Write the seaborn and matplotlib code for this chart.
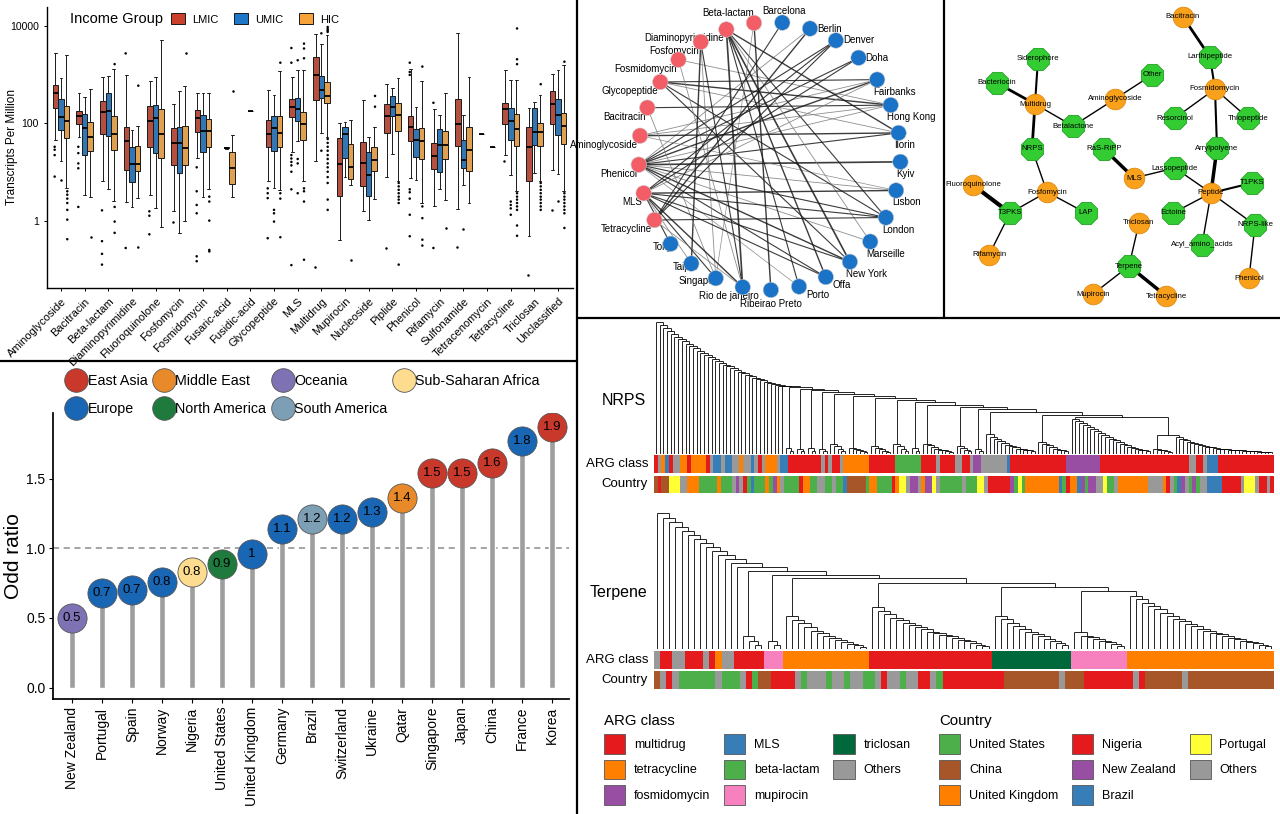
import numpy as np
import pandas as pd
import matplotlib
matplotlib.use("Agg")
import matplotlib.pyplot as plt
import seaborn as sns
from matplotlib.colors import ListedColormap
from matplotlib.collections import LineCollection
from matplotlib.lines import Line2D
from matplotlib.patches import Patch
from matplotlib.ticker import NullLocator

## ---------------- data: panel A (boxplot, values are log10 TPM) ----------------
arg_classes = ["Aminoglycoside", "Bacitracin", "Beta-lactam", "Diaminopyrimidine", "Fluoroquinolone",
               "Fosfomycin", "Fosmidomycin", "Fusaric-acid", "Fusidic-acid", "Glycopeptide", "MLS",
               "Multidrug", "Mupirocin", "Nucleoside", "Piplide", "Phenicol", "Rifamycin",
               "Sulfonamide", "Tetracenomycin", "Tetracycline", "Triclosan", "Unclassified"]
income_groups = ["LMIC", "UMIC", "HIC"]

# (low whisker, Q1, median, Q3, high whisker) per class
lmic_box = [(1.66, 2.31, 2.63, 2.78, 3.43), (1.73, 1.99, 2.15, 2.25, 2.63), (0.81, 1.78, 2.24, 2.46, 2.95),
            (0.40, 1.05, 1.63, 1.93, 2.99), (0.54, 1.51, 2.05, 2.35, 2.87), (0.20, 1.15, 1.59, 1.90, 2.39),
            (1.29, 1.83, 2.10, 2.27, 2.61), None, None, (0.81, 1.52, 1.78, 2.07, 2.68),
            (1.42, 2.12, 2.34, 2.50, 2.94), (1.23, 2.48, 2.99, 3.35, 3.82), (-0.38, 0.52, 1.17, 1.69, 2.00),
            (0.20, 0.71, 1.18, 1.61, 2.48), (0.90, 1.80, 2.15, 2.39, 2.80), (0.88, 1.63, 1.92, 2.15, 3.12),
            (0.30, 1.06, 1.34, 1.59, 2.29), (0.24, 1.54, 1.99, 2.49, 3.85), (1.78, 1.78, 1.78, 1.78, 1.78),
            (1.35, 1.98, 2.29, 2.41, 3.10), (-0.30, 0.81, 1.52, 1.93, 2.31), (1.05, 1.99, 2.39, 2.66, 3.01)]
umic_box = [(1.22, 1.86, 2.12, 2.50, 2.92), (0.54, 1.35, 1.91, 2.19, 2.54), (0.65, 1.75, 2.25, 2.61, 2.97),
            (0.29, 0.79, 1.16, 1.52, 1.86), (0.27, 1.40, 2.10, 2.37, 2.95), (-0.24, 0.98, 1.59, 1.93, 2.67),
            (0.50, 1.42, 1.84, 2.16, 2.61), (1.48, 1.49, 1.50, 1.51, 1.52), (2.25, 2.25, 2.25, 2.25, 2.25),
            (0.67, 1.44, 1.90, 2.14, 2.58), (1.63, 2.05, 2.29, 2.52, 3.10), (1.80, 2.51, 2.68, 2.97, 3.63),
            (0.91, 1.29, 1.78, 1.92, 2.03), (0.03, 0.52, 0.95, 1.41, 1.71), (1.37, 2.14, 2.34, 2.56, 2.73),
            (0.84, 1.32, 1.66, 1.88, 2.34), (0.65, 1.00, 1.56, 1.88, 2.17), (0.74, 1.08, 1.25, 1.66, 2.17),
            None, (0.95, 1.66, 2.05, 2.32, 2.88), (0.98, 1.56, 1.83, 2.31, 2.44), (0.96, 1.76, 2.16, 2.49, 3.09)]
hic_box = [(0.67, 1.69, 2.05, 2.35, 3.39), (0.50, 1.44, 1.73, 2.03, 2.71), (0.41, 1.46, 1.78, 2.14, 3.12),
           (0.47, 1.03, 1.16, 1.54, 1.95), (-0.12, 1.29, 1.78, 2.29, 3.71), (0.01, 1.15, 1.49, 1.95, 2.76),
           (0.65, 1.52, 1.84, 2.09, 2.61), (0.50, 0.76, 1.08, 1.42, 1.76), None,
           (0.64, 1.51, 1.81, 2.14, 3.07), (0.81, 1.65, 1.98, 2.24, 3.10), (1.73, 2.41, 2.56, 2.85, 3.80),
           (0.73, 0.86, 1.10, 1.58, 2.07), (0.45, 1.03, 1.24, 1.52, 1.93), (0.81, 1.84, 2.16, 2.41, 2.92),
           (0.38, 1.27, 1.63, 1.91, 2.86), (0.44, 1.27, 1.56, 1.84, 2.63), (0.37, 1.03, 1.46, 1.93, 2.95),
           (1.52, 1.52, 1.52, 1.52, 1.52), (0.61, 1.54, 1.88, 2.19, 2.88), (0.81, 1.54, 1.82, 2.00, 2.58),
           (0.61, 1.58, 1.95, 2.22, 3.19)]

lmic_out = [[1.52, 1.46, 1.35, 0.91], [1.52, 1.39, 1.18, 1.08, 0.29], [0.22, -0.41, -0.67, -0.89],
            [3.43, -0.55], [0.20, 0.11, -0.27], [-0.01], [1.10, 0.61, 0.33, 0.16, -0.72, -0.82], [], [],
            [0.67, 0.57, 0.47, -0.35], [3.54, 3.24, 1.35, 1.28, 1.21, 1.14, 1.01, 0.65, -0.90], [-0.93],
            [], [], [-0.55], [3.24, 3.05, 2.99, 0.65, 0.59, 0.46, 0.13, -0.31], [2.42, -0.55], [-0.52],
            [], [1.22], [-1.10], [0.22]]
umic_out = [[0.84], [], [], [], [], [], [], [], [], [0.23, 0.16, -0.01], [3.29, 1.27, 1.18, 0.57],
            [3.84, 1.44], [], [], [], [], [], [-0.16], [], [0.40, 0.33, 0.26, 0.13], [], [0.41]]
hic_out = [[0.61, 0.54, 0.46, 0.37, 0.23, 0.03, -0.37], [-0.33], [3.21, 0.29, -0.01, -0.24], [2.77, -0.54],
           [], [3.43], [0.50, 0.40, 0.01, -0.59, -0.62], [2.67], [], [3.24, 0.57, 0.46, -0.33],
           [3.63, 3.53, 3.33, 0.67, 0.61, 0.40, -0.79],
           [3.97, 3.93, 3.90, 3.87, 1.68, 1.60, 1.52, 1.44, 1.35, 1.27, 1.18, 1.10, 1.01, 0.90, 0.78, 0.44, 0.23],
           [-0.80], [2.56, 2.34], [0.78, 0.71, 0.64, 0.57, 0.50, 0.44, 0.37, -0.89],
           [3.16, 0.30, 0.06, -0.38, -0.50], [-0.14], [], [],
           [3.94, 3.31, 3.21, 0.57, 0.50, 0.44, 0.37, 0.30, 0.23, -0.09, -0.30],
           [2.80, 0.78, 0.71, 0.64, 0.57, 0.50, 0.44, 0.37, 0.30, 0.23],
           [3.26, 0.57, 0.50, 0.44, 0.37, 0.30, 0.23, 0.16, -0.14]]

## ---------------- data: panel B (ARG - city network) ----------------
b_cities = ["Barcelona", "Berlin", "Denver", "Doha", "Fairbanks", "Hong Kong", "Ilorin", "Kyiv", "Lisbon",
            "London", "Marseille", "New York", "Offa", "Porto", "Ribeirao Preto", "Rio de janeiro",
            "Singapore", "Taipei", "Tokyo"]
b_args = ["Tetracycline", "MLS", "Phenicol", "Aminoglycoside", "Bacitracin", "Glycopeptide",
          "Fosmidomycin", "Fosfomycin", "Diaminopyrimidine", "Beta-lactam"]
b_edges = [("Phenicol", "Denver", 0.8), ("Phenicol", "Doha", 0.8), ("Phenicol", "Fairbanks", 1.0),
           ("Phenicol", "Hong Kong", 0.6), ("Phenicol", "Ilorin", 0.8), ("Phenicol", "Kyiv", 1.2),
           ("Phenicol", "Lisbon", 0.6), ("Phenicol", "London", 0.8), ("Phenicol", "Marseille", 0.6),
           ("Phenicol", "New York", 1.0), ("Phenicol", "Offa", 0.8), ("Phenicol", "Berlin", 0.6),
           ("Phenicol", "Porto", 0.5), ("Aminoglycoside", "Ilorin", 1.0), ("Aminoglycoside", "Hong Kong", 0.6),
           ("Aminoglycoside", "Fairbanks", 0.6), ("Aminoglycoside", "Lisbon", 0.5),
           ("Glycopeptide", "Hong Kong", 1.0), ("Glycopeptide", "Fairbanks", 0.8), ("Glycopeptide", "Ilorin", 0.6),
           ("Glycopeptide", "London", 0.8), ("Glycopeptide", "New York", 0.8),
           ("Fosmidomycin", "Hong Kong", 0.6), ("Fosmidomycin", "Rio de janeiro", 0.6),
           ("Fosfomycin", "Taipei", 1.0), ("Fosfomycin", "Rio de janeiro", 0.8), ("Fosfomycin", "Singapore", 0.6),
           ("Diaminopyrimidine", "Rio de janeiro", 1.2), ("Diaminopyrimidine", "Offa", 1.0),
           ("Diaminopyrimidine", "New York", 1.2), ("Diaminopyrimidine", "London", 0.8),
           ("Diaminopyrimidine", "Ilorin", 1.0), ("Diaminopyrimidine", "Porto", 0.8),
           ("Diaminopyrimidine", "Marseille", 0.6), ("Beta-lactam", "Ribeirao Preto", 1.0),
           ("Beta-lactam", "Singapore", 0.5), ("Bacitracin", "Hong Kong", 0.8), ("Bacitracin", "Singapore", 0.6),
           ("MLS", "Lisbon", 1.0), ("MLS", "London", 0.8), ("MLS", "Offa", 0.8), ("MLS", "New York", 0.8),
           ("MLS", "Denver", 0.8), ("MLS", "Doha", 0.8), ("MLS", "Fairbanks", 0.6), ("MLS", "Tokyo", 0.8),
           ("MLS", "Taipei", 0.6), ("MLS", "Rio de janeiro", 1.0), ("MLS", "Singapore", 0.8),
           ("Tetracycline", "Berlin", 1.0), ("Tetracycline", "London", 0.8), ("Tetracycline", "Denver", 0.8),
           ("Tetracycline", "Barcelona", 0.8), ("Tetracycline", "Rio de janeiro", 0.6)]

## ---------------- data: panel C (ARG - BGC network, layout) ----------------
c_names = ["Bacitracin", "Fosmidomycin", "Multidrug", "Aminoglycoside", "MLS", "Fosfomycin", "Fluoroquinolone",
           "Rifamycin", "Peptide", "Triclosan", "Mupirocin", "Tetracycline", "Phenicol",
           "Siderophore", "Bacteriocin", "Other", "Larthipeptide", "Betalactone", "Resorcinol", "Thiopeptide",
           "NRPS", "Arrylpolyene", "RaS-RiPP", "Lassopeptide", "T1PKS", "T3PKS", "LAP", "Ectoine",
           "NRPS-like", "Acyl_amino_acids", "Terpene"]
c_kind = ["ARG"] * 13 + ["BGC"] * 18
c_x = [1183, 1215, 1035, 1115, 1134, 1047, 973, 989, 1211, 1139, 1093, 1166, 1249,
       1038, 997, 1152, 1210, 1073, 1175, 1248, 1032, 1217, 1104, 1175, 1252, 1010, 1086, 1173, 1255, 1202, 1129]
c_y = [17, 89, 104, 99, 178, 192, 185, 255, 193, 223, 294, 296, 278,
       59, 83, 75, 57, 126, 118, 118, 149, 148, 149, 168, 183, 213, 213, 213, 225, 245, 266]
c_edges = [("Bacitracin", "Larthipeptide", 2.0), ("Larthipeptide", "Fosmidomycin", 1.5),
           ("Fosmidomycin", "Resorcinol", 1.0), ("Fosmidomycin", "Thiopeptide", 1.0),
           ("Fosmidomycin", "Arrylpolyene", 1.5), ("Arrylpolyene", "Peptide", 2.5),
           ("Peptide", "Lassopeptide", 1.0), ("Peptide", "T1PKS", 1.5), ("Peptide", "Ectoine", 1.0),
           ("Peptide", "Acyl_amino_acids", 1.0), ("Peptide", "NRPS-like", 1.0), ("NRPS-like", "Phenicol", 1.0),
           ("Lassopeptide", "MLS", 1.0), ("MLS", "RaS-RiPP", 2.5), ("Siderophore", "Multidrug", 1.5),
           ("Bacteriocin", "Multidrug", 2.0), ("Multidrug", "Betalactone", 1.0), ("Multidrug", "NRPS", 2.0),
           ("Betalactone", "Aminoglycoside", 1.0), ("Aminoglycoside", "Other", 1.0),
           ("NRPS", "Fosfomycin", 1.0), ("Fosfomycin", "T3PKS", 1.0), ("Fosfomycin", "LAP", 1.0),
           ("T3PKS", "Fluoroquinolone", 3.0), ("T3PKS", "Rifamycin", 1.0), ("Triclosan", "Terpene", 1.0),
           ("Terpene", "Mupirocin", 1.0), ("Terpene", "Tetracycline", 2.5)]

## ---------------- data: panel D (odds ratio lollipop) ----------------
countries = ["New Zealand", "Portugal", "Spain", "Norway", "Nigeria", "United States", "United Kingdom",
             "Germany", "Brazil", "Switzerland", "Ukraine", "Qatar", "Singapore", "Japan", "China", "France", "Korea"]
odds = [0.50, 0.68, 0.70, 0.76, 0.83, 0.89, 0.96, 1.14, 1.21, 1.21, 1.26, 1.36, 1.54, 1.54, 1.61, 1.77, 1.87]
odds_labels = ["0.5", "0.7", "0.7", "0.8", "0.8", "0.9", "1", "1.1", "1.2", "1.2", "1.3", "1.4",
               "1.5", "1.5", "1.6", "1.8", "1.9"]
country_region = ["Oceania", "Europe", "Europe", "Europe", "Sub-Saharan Africa", "North America", "Europe",
                  "Europe", "South America", "Europe", "Europe", "Middle East", "East Asia", "East Asia",
                  "East Asia", "Europe", "East Asia"]

## ---------------- data: panel E (dendrograms + annotation strips) ----------------
nrps_ladder = [100, 97.6, 95.3, 93.1, 91.1, 89.1, 87.2, 85.4, 83.6, 81.9, 80.2, 78.5, 76.9, 75.3, 73.7,
               72.2, 70.7, 69.2, 67.8, 66.4, 65.0, 63.7, 62.4, 61.2, 60.0, 58.8, 57.7, 56.7, 55.7, 54.8,
               53.9, 53.1, 52.4, 51.7, 51.1]
nrps_clusters = [([4.3, 1.8], 50.4), ([3.8, 1.8], 49.4), ([4.3, 1.8], 48.1), ([3.8, 1.8], 46.8),
                 ([7.6, 5.8, 3.8, 1.8], 45.6), ([4.3, 3.8, 2.5, 1.8, 1.3], 43.8),
                 ([5.8, 4.3, 3.3, 1.8, 1.3], 42.3), ([7.6, 5.8, 3.8, 1.8], 40.8), ([4.3, 1.8], 39.2),
                 ([7.6, 6.3, 5.1, 3.8, 3.0, 2.3, 1.8, 1.3], 37.2), ([5.8, 4.3, 3.0, 1.8], 35.4),
                 ([3.8, 1.8], 33.7),
                 ([15.2, 12.7, 10.9, 9.4, 8.1, 6.8, 5.8, 4.8, 3.8, 3.3, 2.8, 2.3, 1.8], 31.6),
                 ([8.9, 7.6, 6.3, 5.1, 3.8, 2.8, 2.3, 1.8], 29.6),
                 ([26.6, 25.1, 23.5, 22.0, 20.5, 19.0, 17.5, 16.0, 14.4, 12.9, 11.4, 10.1, 8.9, 7.6, 6.3,
                   5.1, 4.3, 3.8, 2.8, 2.3, 1.8], 27.8)]
nrps_tail_height = 13.9
nrps_tail_left = [3.8, 2.8, 2.3, 1.8, 1.3]
nrps_tail_right = [12.7, 11.4, 10.1, 9.1, 8.1, 7.1, 6.3, 5.6, 5.1, 4.6, 4.1, 3.8, 3.5, 3.3, 3.0, 2.8, 2.6,
                   2.4, 2.2, 2.0, 1.8, 1.6, 1.4, 1.2, 1.0, 0.8]

terp_ladder = [100, 96.8, 93.4, 90.2, 87.1, 84.1, 81.2, 78.0, 74.9, 72.0, 69.0, 66.6, 63.4, 60.2]
terp_clusters = [([9.8, 6.1, 3.2], 57.3), ([6.1, 3.2], 54.9),
                 ([24.4, 21.2, 18.8, 15.9, 13.4, 11.5, 9.8, 8.0, 6.6, 4.9, 3.7, 2.7, 1.7], 52.0),
                 ([31.0, 28.0, 25.6, 23.2, 21.2, 19.3, 17.6, 15.9, 14.4, 12.9, 11.7, 10.5, 9.3, 8.0, 6.8,
                   5.6, 4.4, 3.2, 2.0], 48.8),
                 ([24.4, 22.0, 19.5, 17.1, 14.6, 12.7, 11.0, 9.3, 7.6, 6.1, 4.4, 2.7], 45.6),
                 ([12.2, 9.8, 8.5, 7.3, 6.1, 4.9, 3.7, 2.2], 42.7),
                 ([39.0, 36.6, 34.1, 31.7, 29.3, 26.8, 24.4, 22.4, 20.5, 18.5, 16.8, 15.1, 13.4, 12.0, 10.7,
                   9.5, 8.3, 7.1, 6.1, 5.1, 4.1, 3.2, 2.2], None)]

arg_codes = ["mdr", "tet", "fos", "mls", "bla", "mup", "tri", "oth"]
arg_labels = ["multidrug", "tetracycline", "fosmidomycin", "MLS", "beta-lactam", "mupirocin", "triclosan", "Others"]
country_codes = ["US", "CN", "UK", "NG", "NZ", "BR", "PT", "OT"]
country_labels = ["United States", "China", "United Kingdom", "Nigeria", "New Zealand", "Brazil", "Portugal", "Others"]

nrps_arg_runs = [("mdr", 1), ("oth", 1), ("tet", 1), ("mls", 1), ("mdr", 1), ("oth", 2), ("tet", 2), ("mdr", 1),
                 ("tet", 4), ("mdr", 1), ("oth", 1), ("mls", 2), ("oth", 1), ("mls", 2), ("oth", 2), ("tet", 1),
                 ("oth", 2), ("mls", 1), ("oth", 1), ("mdr", 1), ("oth", 1), ("tet", 3), ("oth", 1), ("mls", 2),
                 ("mdr", 9), ("oth", 1), ("mdr", 1), ("oth", 1), ("mdr", 2), ("oth", 1), ("tet", 7), ("mdr", 7),
                 ("bla", 7), ("mdr", 4), ("oth", 1), ("mdr", 4), ("oth", 2), ("mdr", 2), ("oth", 1), ("fos", 2),
                 ("oth", 7), ("mls", 1), ("mdr", 15), ("fos", 9), ("mdr", 24), ("oth", 2), ("mdr", 2), ("oth", 1),
                 ("mls", 3), ("mdr", 15)]
nrps_country_runs = [("CN", 1), ("NG", 1), ("CN", 2), ("PT", 3), ("OT", 2), ("UK", 3), ("US", 5), ("UK", 1),
                     ("US", 3), ("OT", 1), ("NZ", 1), ("OT", 1), ("NG", 1), ("US", 1), ("BR", 1), ("US", 3),
                     ("UK", 1), ("US", 1), ("NZ", 1), ("UK", 1), ("OT", 1), ("US", 4), ("NG", 1), ("UK", 2),
                     ("US", 2), ("OT", 2), ("US", 2), ("OT", 1), ("US", 2), ("BR", 1), ("CN", 5), ("US", 1),
                     ("UK", 2), ("US", 4), ("NG", 1), ("UK", 1), ("PT", 2), ("OT", 1), ("NZ", 2), ("OT", 1),
                     ("UK", 1), ("NZ", 2), ("PT", 1), ("OT", 1), ("US", 6), ("OT", 1), ("US", 3), ("PT", 2),
                     ("OT", 1), ("NG", 6), ("NZ", 1), ("US", 1), ("PT", 1), ("US", 1), ("UK", 9), ("BR", 1),
                     ("US", 1), ("NG", 1), ("UK", 2), ("BR", 1), ("NZ", 1), ("US", 1), ("NZ", 2), ("OT", 2),
                     ("PT", 1), ("US", 2), ("OT", 1), ("UK", 8), ("OT", 4), ("UK", 1), ("NG", 1), ("OT", 1),
                     ("US", 1), ("BR", 1), ("NZ", 1), ("OT", 1), ("US", 1), ("NZ", 1), ("US", 1), ("OT", 2),
                     ("BR", 4), ("NG", 5), ("OT", 1), ("PT", 3), ("OT", 1), ("NG", 2), ("OT", 1), ("NG", 1)]
terp_arg_runs = [("oth", 1), ("mdr", 2), ("oth", 2), ("mdr", 3), ("oth", 1), ("mdr", 1), ("tet", 1), ("oth", 2),
                 ("mdr", 5), ("mup", 3), ("tet", 14), ("mdr", 20), ("tri", 13), ("mup", 9), ("tet", 24)]
terp_country_runs = [("CN", 1), ("OT", 1), ("NG", 1), ("OT", 1), ("US", 6), ("OT", 1), ("US", 3), ("OT", 1),
                     ("NG", 1), ("US", 1), ("CN", 2), ("NG", 4), ("OT", 1), ("US", 1), ("OT", 3), ("US", 1),
                     ("OT", 2), ("US", 1), ("OT", 2), ("US", 2), ("OT", 1), ("NG", 1), ("OT", 2), ("US", 1),
                     ("OT", 2), ("NG", 2), ("OT", 1), ("US", 1), ("NG", 10), ("CN", 9), ("OT", 1), ("CN", 3),
                     ("NG", 8), ("OT", 1), ("NG", 1), ("CN", 6), ("OT", 1), ("CN", 14)]

## ---------------- styles ----------------
income_colors = {"LMIC": "#C9402B", "UMIC": "#1E77C9", "HIC": "#F7A33A"}
region_colors = {"East Asia": "#C8382B", "Middle East": "#E8892A", "Oceania": "#7E72B4",
                 "Sub-Saharan Africa": "#FDDC8F", "Europe": "#1866B4", "North America": "#1F7A3D",
                 "South America": "#7C9FB5"}
arg_palette = ["#E41A1C", "#FF7F00", "#984EA3", "#377EB8", "#4DAF4A", "#F781BF", "#00693C", "#999999"]
country_palette = ["#4DAF4A", "#A65628", "#FF7F00", "#E41A1C", "#984EA3", "#377EB8", "#FFFF33", "#999999"]

sns.set_theme(style="ticks", rc={"axes.labelcolor": "black", "xtick.color": "black", "ytick.color": "black",
                                 "text.color": "black", "axes.edgecolor": "black"})
plt.rcParams["font.family"] = ["Liberation Sans", "DejaVu Sans"]

W, H = 1280, 814
fig = plt.figure(figsize=(W / 100, H / 100), dpi=100)


def px_axes(x0, y0, x1, y1):
    return fig.add_axes([x0 / W, 1 - y1 / H, (x1 - x0) / W, (y1 - y0) / H])


def px_xy(x, y):
    return x / W, 1 - y / H


## ================= panel A: boxplot =================
box_rows, out_rows = [], []
for grp, stats, outs in zip(income_groups, [lmic_box, umic_box, hic_box], [lmic_out, umic_out, hic_out]):
    for cls, st, ol in zip(arg_classes, stats, outs):
        if st is not None:
            box_rows += [(cls, grp, 10 ** v) for v in st]
        out_rows += [(cls, grp, 10 ** v) for v in ol]
box_df = pd.DataFrame(box_rows, columns=["cls", "grp", "tpm"])
out_df = pd.DataFrame(out_rows, columns=["cls", "grp", "tpm"])

ax_a = px_axes(47, 6.7, 573, 287.7)
sns.boxplot(data=box_df, x="cls", y="tpm", hue="grp", order=arg_classes, hue_order=income_groups,
            palette=income_colors, width=0.7, whis=(0, 100), fliersize=0, linewidth=0.7,
            linecolor="#1a1a1a", medianprops=dict(color="black", linewidth=1.3),
            log_scale=True, legend=False, ax=ax_a)
sns.stripplot(data=out_df, x="cls", y="tpm", hue="grp", order=arg_classes, hue_order=income_groups,
              palette={g: "black" for g in income_groups}, dodge=True, jitter=False, size=1.8,
              log_scale=True, legend=False, ax=ax_a)
ax_a.set_xlim(-0.59, 21.63)
ax_a.set_ylim(10 ** -1.362, 10 ** 4.385)
ax_a.set_yticks([1, 100, 10000])
ax_a.set_yticklabels(["1", "100", "10000"], fontsize=7.5)
ax_a.yaxis.set_minor_locator(NullLocator())
ax_a.set_xticks(range(len(arg_classes)))
ax_a.set_xticklabels(arg_classes, rotation=45, ha="right", rotation_mode="anchor", fontsize=8)
ax_a.set_xlabel("")
ax_a.set_ylabel("Transcripts Per Million", fontsize=8.5)
ax_a.yaxis.set_label_coords(-29 / 526, 0.5)
ax_a.tick_params(length=2.5, width=0.7)
sns.despine(ax=ax_a)
for s in ["left", "bottom"]:
    ax_a.spines[s].set_linewidth(1.0)

fig.text(*px_xy(70, 19), "Income Group", fontsize=10.5, ha="left", va="center")
fig.legend([Patch(facecolor=income_colors[g], edgecolor="#1a1a1a", linewidth=0.7) for g in income_groups],
           income_groups, loc="center left", bbox_to_anchor=px_xy(171, 19), ncol=3, frameon=False,
           fontsize=8, handlelength=1.3, handleheight=1.1, handletextpad=0.6, columnspacing=1.4,
           borderpad=0, borderaxespad=0)

## ================= panel B: circular bipartite network =================
ax_b = px_axes(580, 2, 944, 316)
b_order = b_cities + b_args
cx, cy, rx, ry = 769.5, 156.0, 131.0, 134.0
b_ang = {n: np.deg2rad(84.4 - i * 360.0 / len(b_order)) for i, n in enumerate(b_order)}
b_pos = {n: (cx + rx * np.cos(a), cy - ry * np.sin(a)) for n, a in b_ang.items()}
for a_name, c_name, w in b_edges:
    (x0, y0), (x1, y1) = b_pos[a_name], b_pos[c_name]
    ax_b.plot([x0, x1], [y0, y1], color="#1a1a1a" if w >= 0.8 else "#7a7a7a", lw=w, alpha=0.85, zorder=1)
b_df = pd.DataFrame({"name": b_order, "x": [b_pos[n][0] for n in b_order], "y": [b_pos[n][1] for n in b_order],
                     "kind": ["city"] * len(b_cities) + ["arg"] * len(b_args)})
sns.scatterplot(data=b_df, x="x", y="y", hue="kind", palette={"city": "#1A73C7", "arg": "#F25D66"},
                s=125, edgecolor="#cccccc", linewidth=0.4, legend=False, zorder=3, ax=ax_b)
for n in b_order:
    x, y = b_pos[n]
    a = np.rad2deg(b_ang[n])
    a = a if a > -180 else a + 360
    if n == "Barcelona":
        ha, ox, oy = "center", 2, -12
    elif n == "Beta-lactam":
        ha, ox, oy = "right", 0, -10
    elif n == "Rio de janeiro":
        ha, ox, oy = "center", -14, 9
    elif n in b_args:
        ha, ox, oy = "right", -2, 9
    elif a > 45:
        ha, ox, oy = "left", 7, 0
    elif a > -60:
        ha, ox, oy = "left", -4, 12
    elif a > -85:
        ha, ox, oy = "left", 7, 8
    elif a > -95:
        ha, ox, oy = "center", 0, 14
    else:
        ha, ox, oy = "right", 7, 3
    ax_b.text(x + ox, y + oy, n, ha=ha, va="center", fontsize=7, zorder=2)
ax_b.set_xlim(580, 944)
ax_b.set_ylim(316, 2)
ax_b.axis("off")

## ================= panel C: ARG-BGC network =================
ax_c = px_axes(946, 2, 1280, 316)
c_pos = {n: (x, y) for n, x, y in zip(c_names, c_x, c_y)}
for n0, n1, w in c_edges:
    ax_c.plot([c_pos[n0][0], c_pos[n1][0]], [c_pos[n0][1], c_pos[n1][1]], color="black", lw=w, zorder=1)
c_df = pd.DataFrame({"name": c_names, "x": c_x, "y": c_y, "kind": c_kind})
sns.scatterplot(data=c_df[c_df.kind == "BGC"], x="x", y="y", color="#33CC33", marker="8", s=300,
                edgecolor="#22A022", linewidth=0.6, legend=False, zorder=3, ax=ax_c)
sns.scatterplot(data=c_df[c_df.kind == "ARG"], x="x", y="y", color="#F9A11B", marker="o", s=220,
                edgecolor="#E08A10", linewidth=0.6, legend=False, zorder=3, ax=ax_c)
for n, x, y in zip(c_names, c_x, c_y):
    ax_c.text(x, y, n, ha="center", va="center", fontsize=5.6, zorder=4)
ax_c.set_xlim(946, 1280)
ax_c.set_ylim(316, 2)
ax_c.axis("off")

## ================= panel D: lollipop =================
ax_d = px_axes(53, 413, 569, 699)
lolli_df = pd.DataFrame({"country": countries, "odds": odds, "region": country_region})
sns.barplot(data=lolli_df, x="country", y="odds", order=countries, color="#9E9E9E", width=0.2,
            errorbar=None, saturation=1, ax=ax_d, zorder=2)
ax_d.axhline(1.0, ls=(0, (4, 3)), color="#8c8c8c", lw=1.1, zorder=1)
sns.stripplot(data=lolli_df, x="country", y="odds", hue="region", order=countries, palette=region_colors,
              jitter=False, size=21, linewidth=0.6, edgecolor="#555555", legend=False, zorder=3, ax=ax_d)
for i, (v, lab) in enumerate(zip(odds, odds_labels)):
    ax_d.text(i, v, lab, ha="center", va="center", fontsize=9.5, zorder=4)
ax_d.set_xlim(-0.63, 16.57)
ax_d.set_ylim(-0.081, 1.97)
ax_d.set_yticks([0, 0.5, 1.0, 1.5])
ax_d.set_yticklabels(["0.0", "0.5", "1.0", "1.5"], fontsize=10)
ax_d.set_xticks(range(len(countries)))
ax_d.set_xticklabels(countries, rotation=90, fontsize=10)
ax_d.set_xlabel("")
ax_d.set_ylabel("Odd ratio", fontsize=15)
ax_d.yaxis.set_label_coords(-30 / 516, 0.5)
ax_d.tick_params(length=3, width=0.8, pad=2.5)
sns.despine(ax=ax_d)
legend_order = ["East Asia", "Europe", "Middle East", "North America", "Oceania", "South America",
                "Sub-Saharan Africa"]
fig.legend([Line2D([], [], ls="", marker="o", markersize=17, markerfacecolor=region_colors[r],
                   markeredgecolor="#555555", markeredgewidth=0.6) for r in legend_order],
           legend_order, loc="upper left", bbox_to_anchor=px_xy(67, 374), ncol=4, frameon=False,
           fontsize=10.3, handlelength=1.3, handletextpad=0.15, columnspacing=0.5, labelspacing=1.0,
           borderpad=0, borderaxespad=0)


## ================= panel E: dendrograms + strips =================
def ladder(heights):
    if not heights:
        return None
    tree = (heights[-1], None, None)
    for h in reversed(heights[:-1]):
        tree = (h, None, tree)
    return tree


def chain(parts):
    tree = parts[-1][0]
    for sub, h in reversed(parts[:-1]):
        tree = (h, sub, tree)
    return tree


def walk(tree, start, segs):
    if tree is None:
        return start + 0.5, 0.0, 1
    h, left, right = tree
    xl, hl, nl = walk(left, start, segs)
    xr, hr, nr = walk(right, start + nl, segs)
    segs += [[(xl, hl), (xl, h)], [(xr, hr), (xr, h)], [(xl, h), (xr, h)]]
    return (xl + xr) / 2, h, nl + nr


def expand(runs, codes):
    out = []
    for c, n in runs:
        out += [codes.index(c)] * n
    return np.array([out])


def draw_block(tree, arg_runs, country_runs, y_top, y_leaf, title, title_x, title_y):
    segs = []
    _, _, n = walk(tree, 0, segs)
    ax_t = px_axes(654, y_top, 1274, y_leaf)
    ax_t.add_collection(LineCollection(segs, colors="black", linewidths=0.6))
    ax_t.set_xlim(0, n)
    ax_t.set_ylim(0, 101)
    ax_t.axis("off")
    for (runs, codes, pal), (s0, s1), lab in zip(
            [(arg_runs, arg_codes, arg_palette), (country_runs, country_codes, country_palette)],
            [(y_leaf + 2, y_leaf + 19.5), (y_leaf + 22, y_leaf + 39.5)], ["ARG class", "Country"]):
        ax_s = px_axes(654, s0, 1274, s1)
        sns.heatmap(expand(runs, codes), cmap=ListedColormap(pal), vmin=-0.5, vmax=len(pal) - 0.5,
                    cbar=False, xticklabels=False, yticklabels=False, ax=ax_s)
        fig.text(*px_xy(648, (s0 + s1) / 2), lab, ha="right", va="center", fontsize=9.5)
    fig.text(*px_xy(title_x, title_y), title, ha="center", va="center", fontsize=11.5)


nrps_parts = [(None, h) for h in nrps_ladder] + [(ladder(c), h) for c, h in nrps_clusters]
nrps_parts.append(((nrps_tail_height, ladder(nrps_tail_left), ladder(nrps_tail_right)), None))
draw_block(chain(nrps_parts), nrps_arg_runs, nrps_country_runs, 321, 453.5, "NRPS", 624, 400)

terp_parts = [(None, h) for h in terp_ladder] + [(ladder(c), h) for c, h in terp_clusters]
draw_block(chain(terp_parts), terp_arg_runs, terp_country_runs, 512, 649, "Terpene", 619, 592)

leg_kw = dict(loc="upper left", ncol=3, frameon=False, fontsize=9, title_fontsize=10.8, handlelength=1.7,
              handleheight=2.0, handletextpad=0.7, labelspacing=0.5, columnspacing=1.1, borderpad=0,
              borderaxespad=0, alignment="left")
fig.legend([Patch(facecolor=c, edgecolor="#555555", linewidth=0.6) for c in arg_palette], arg_labels,
           title="ARG class", bbox_to_anchor=px_xy(604, 714), **leg_kw)
fig.legend([Patch(facecolor=c, edgecolor="#555555", linewidth=0.6) for c in country_palette], country_labels,
           title="Country", bbox_to_anchor=px_xy(939, 714), **leg_kw)

## ================= panel dividers =================
for (x0, y0), (x1, y1) in [((577, 0), (577, 814)), ((0, 361), (577, 361)), ((577, 318), (1280, 318)),
                           ((944, 0), (944, 318))]:
    fig.add_artist(Line2D([x0 / W, x1 / W], [1 - y0 / H, 1 - y1 / H], color="black", lw=1.6))

fig.savefig("out.png", dpi=100)
